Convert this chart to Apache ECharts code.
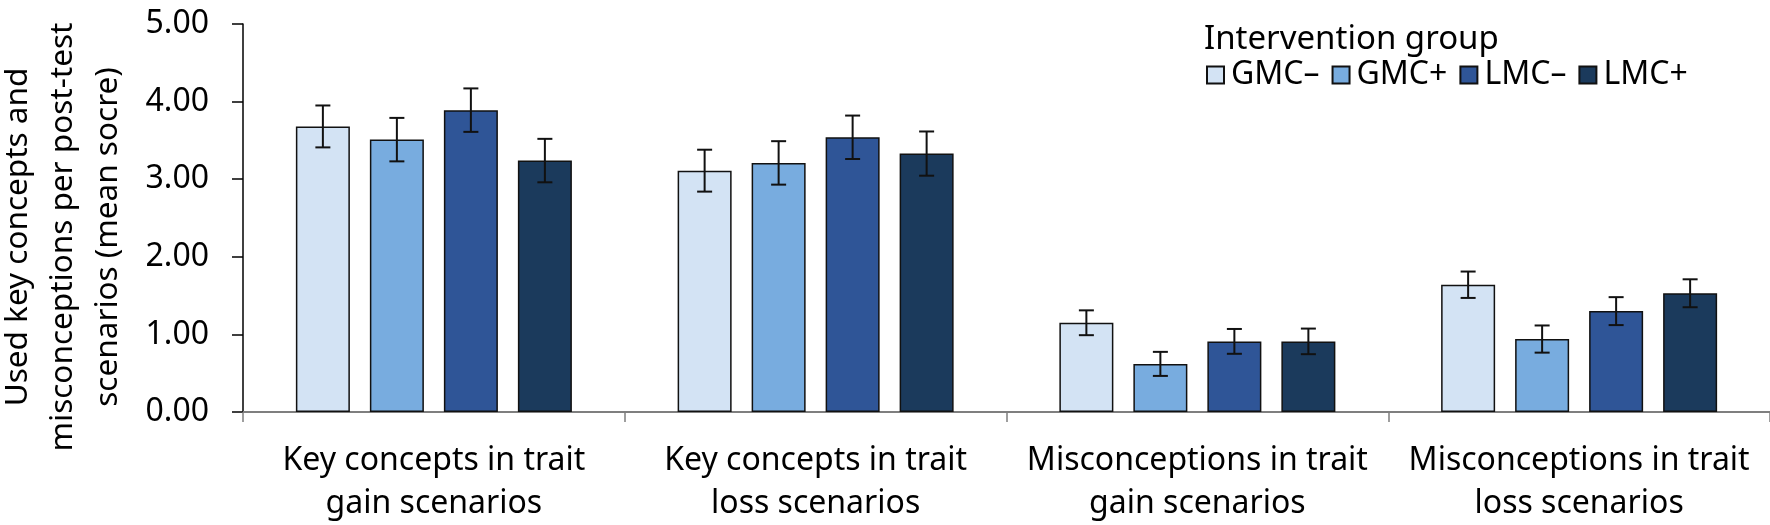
<!DOCTYPE html>
<html>
<head>
<meta charset="utf-8">
<script src="https://cdn.jsdelivr.net/npm/echarts@6/dist/echarts.min.js"></script>
<style>html,body{margin:0;padding:0;background:#fff;}#c{width:1770px;height:525px;}</style>
</head>
<body>
<div id="c"></div>
<script>
// ---- data ----
const categories = [
  'Key concepts in trait\ngain scenarios',
  'Key concepts in trait\nloss scenarios',
  'Misconceptions in trait\ngain scenarios',
  'Misconceptions in trait\nloss scenarios'
];
const groupNames = ['GMC\u2013', 'GMC+', 'LMC\u2013', 'LMC+'];
const gmcMinus = [3.68, 3.11, 1.15, 1.64];
const gmcPlus  = [3.51, 3.21, 0.62, 0.94];
const lmcMinus = [3.89, 3.54, 0.91, 1.30];
const lmcPlus  = [3.24, 3.33, 0.91, 1.53];
const gmcMinusErr = [0.27, 0.27, 0.16, 0.17];
const gmcPlusErr  = [0.28, 0.28, 0.155, 0.175];
const lmcMinusErr = [0.28, 0.28, 0.16, 0.18];
const lmcPlusErr  = [0.28, 0.285, 0.165, 0.18];
const yTicks = [0, 1, 2, 3, 4, 5];
const yTitle = 'Used key concepts and\nmisconceptions per post-test\nscenarios (mean socre)';
const legendTitle = 'Intervention group';

// ---- style ----
const colors = ['#D3E3F4', '#78ACDF', '#2F5597', '#1B3A5C'];
const FONT = 'Noto Sans';
const BAR_W = 54, BAR_GAP = 20;
const values = [gmcMinus, gmcPlus, lmcMinus, lmcPlus];
const errors = [gmcMinusErr, gmcPlusErr, lmcMinusErr, lmcPlusErr];

const chart = echarts.init(document.getElementById('c'));

const series = [];
values.forEach((vals, i) => {
  series.push({
    name: groupNames[i],
    type: 'bar',
    data: vals,
    barWidth: BAR_W,
    barGap: (BAR_GAP / BAR_W * 100) + '%',
    itemStyle: { color: colors[i], borderColor: '#111', borderWidth: 1.5 },
    emphasis: { disabled: true },
    z: 2
  });
});
values.forEach((vals, i) => {
  const offset = (i - 1.5) * (BAR_W + BAR_GAP);
  series.push({
    type: 'custom',
    name: groupNames[i] + ' err',
    data: vals.map((v, k) => [k, v - errors[i][k], v + errors[i][k]]),
    z: 5,
    silent: true,
    renderItem: function (params, api) {
      const x = api.coord([api.value(0), 0])[0] + offset;
      const lo = api.coord([api.value(0), api.value(1)])[1];
      const hi = api.coord([api.value(0), api.value(2)])[1];
      const cap = 7.5;
      const st = { stroke: '#111', lineWidth: 2 };
      return {
        type: 'group',
        children: [
          { type: 'line', shape: { x1: x, y1: lo, x2: x, y2: hi }, style: st },
          { type: 'line', shape: { x1: x - cap, y1: hi, x2: x + cap, y2: hi }, style: st },
          { type: 'line', shape: { x1: x - cap, y1: lo, x2: x + cap, y2: lo }, style: st }
        ]
      };
    }
  });
});

chart.setOption({
  animation: false,
  textStyle: { fontFamily: FONT },
  grid: { left: 243, right: 0, top: 24, bottom: 112, containLabel: false },
  title: {
    text: legendTitle, left: 1199, top: 18,
    textStyle: { fontFamily: FONT, fontSize: 33, fontWeight: 'normal', color: '#000' }
  },
  legend: {
    data: groupNames, left: 1201, top: 54,
    icon: 'rect', itemWidth: 17, itemHeight: 17, itemGap: 12,
    textStyle: { fontFamily: FONT, fontSize: 32, color: '#000', padding: [0, 0, 0, 2] },
    selectedMode: false
  },
  xAxis: {
    type: 'category', data: categories,
    axisLine: { lineStyle: { color: '#7f7f7f', width: 2 } },
    axisTick: { show: true, length: 10, lineStyle: { color: '#7f7f7f', width: 1.5 } },
    axisLabel: { fontFamily: FONT, fontSize: 32, color: '#000', lineHeight: 43, margin: 27, interval: 0 }
  },
  yAxis: {
    type: 'value', min: yTicks[0], max: yTicks[yTicks.length - 1], interval: 1,
    axisLine: { show: true, lineStyle: { color: '#000', width: 1.5 } },
    axisTick: { show: true, length: 11, lineStyle: { color: '#000', width: 1.5 } },
    splitLine: { show: false },
    axisLabel: { fontFamily: FONT, fontSize: 32, color: '#000', margin: 34, formatter: v => v.toFixed(2) }
  },
  graphic: [{
    type: 'text', x: 63, y: 237, rotation: Math.PI / 2,
    style: { text: yTitle, font: '31.5px "Noto Sans"', fill: '#000', align: 'center', verticalAlign: 'middle', lineHeight: 45 }
  }],
  series: series
});
</script>
</body>
</html>
